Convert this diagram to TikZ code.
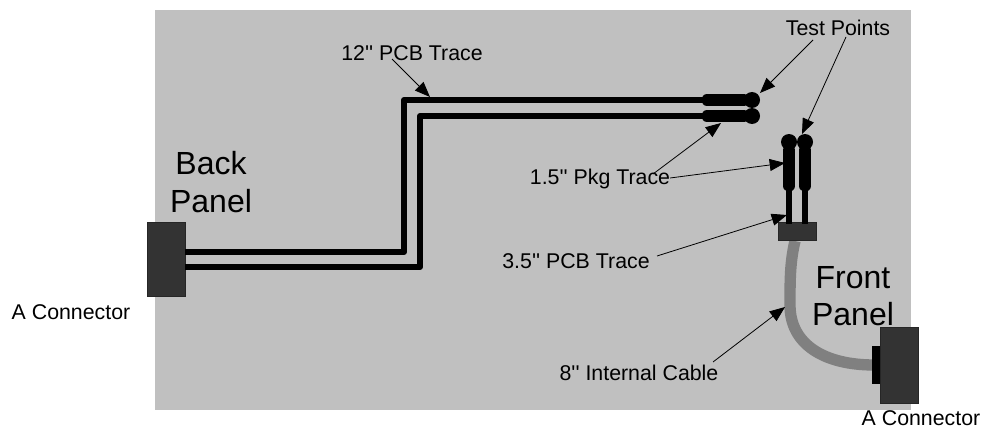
\documentclass[tikz,border=0pt]{standalone}
\usepackage{fontspec}
\usepackage{tikz}
\usetikzlibrary{arrows.meta}
\newfontfamily\lblfont{Liberation Sans}
\definecolor{panelgray}{HTML}{C0C0C0}
\definecolor{conngray}{HTML}{333333}
\definecolor{cablegray}{HTML}{808080}
\tikzset{
	lbl/.style={font=\lblfont\fontsize{16}{18}\selectfont,inner sep=0pt},
	biglbl/.style={font=\lblfont\fontsize{24}{28}\selectfont,inner sep=0pt,align=center},
	conn/.style={draw=black!85,line width=0.6pt,fill=conngray,inner sep=0pt},
	trace/.style={line width=4.5pt,line join=round},
	pkg/.style={line width=8.5pt,line cap=round},
	tpoint/.style={circle,fill=black,minimum size=12pt,inner sep=0pt},
	callout/.style={-{Triangle[length=11.5pt,width=9pt]},line width=0.6pt},
}
\begin{document}
\begin{tikzpicture}[x=0.75pt,y=-0.75pt]
		\useasboundingbox (0,0) rectangle (982,428);
		\fill[panelgray] (155,10) rectangle (911,410);
		% cable
		\coordinate (cabletop) at (795,241);
		\coordinate (cableend) at (874,365);
		\draw[cablegray,line width=8.5pt] (cabletop) .. controls (790,262) and (790,280) .. (790,305) .. controls (790,345) and (825,365) .. (cableend);
		% connectors
		\node[conn,minimum width=28.5pt,minimum height=56pt] (backconn) at (166,259.5) {};
		\node[conn,minimum width=28.5pt,minimum height=14pt] (midconn) at (797,231.5) {};
		\node[conn,minimum width=28.5pt,minimum height=57pt] (frontconn) at (899,365) {};
		\node[fill=black,minimum width=6pt,minimum height=28.5pt,inner sep=0pt] (frontplug) at (876,365) {};
		% test points
		\node[tpoint] (tpa) at (752,100) {};
		\node[tpoint] (tpb) at (752,116) {};
		\node[tpoint] (tpc) at (789,142) {};
		\node[tpoint] (tpd) at (805,142) {};
		% traces
		\draw[trace] (backconn.east |- 0,252) -| (404,100) -- (tpa);
		\draw[trace] (backconn.east |- 0,267) -| (420,116) -- (tpb);
		\draw[trace] (tpc) -- (789,224);
		\draw[trace] (tpd) -- (805,224);
		\draw[pkg] (707,100) -- (tpa);
		\draw[pkg] (707,116) -- (tpb);
		\draw[pkg] (tpc) -- (789,186);
		\draw[pkg] (tpd) -- (805,186);
		% labels
		\node[biglbl] (backlbl) at (211,182) {Back\\Panel};
		\node[biglbl] (frontlbl) at (853,296) {Front\\Panel};
		\node[lbl] (leftlbl) at (71,312) {A Connector};
		\node[lbl] (rightlbl) at (921,418) {A Connector};
		\node[lbl] (longlbl) at (412,53) {12'' PCB Trace};
		\node[lbl] (testlbl) at (838,28) {Test Points};
		\node[lbl] (pkglbl) at (600,179) {1.5'' Pkg Trace};
		\node[lbl] (shortlbl) at (576,261) {3.5'' PCB Trace};
		\node[lbl] (cablelbl) at (639,373) {8'' Internal Cable};
		% callouts
		\coordinate (longtip) at (430,97);
		\coordinate (tipa) at (760,93);
		\coordinate (tipb) at (802,134);
		\coordinate (tipc) at (721,123);
		\coordinate (tipd) at (785,163);
		\coordinate (tipe) at (787,215);
		\coordinate (tipf) at (785,307);
		\draw[callout] (392,59) -- (longtip);
		\draw[callout] (813,40) -- (tipa);
		\draw[callout] (846,37) -- (tipb);
		\draw[callout] (653,174) -- (tipc);
		\draw[callout] (670,178) -- (tipd);
		\draw[callout] (657,256) -- (tipe);
		\draw[callout] (713,362) -- (tipf);
	\end{tikzpicture}
\end{document}
